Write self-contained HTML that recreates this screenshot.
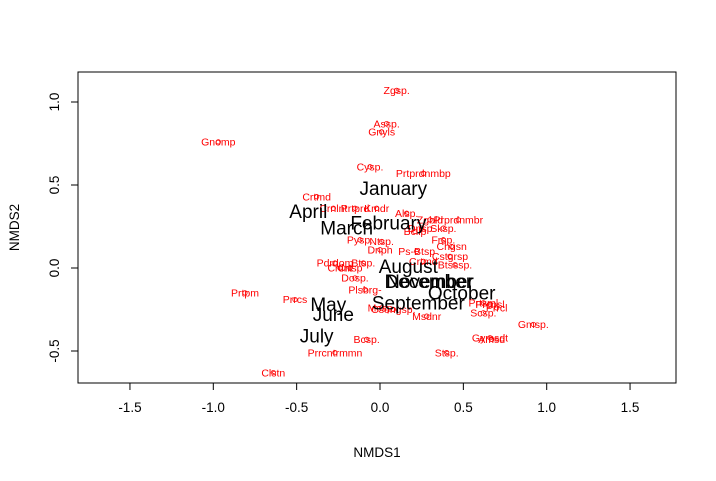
<!DOCTYPE html>
<html><head><meta charset="utf-8">
<style>
html,body{margin:0;padding:0;background:#fff;}
svg{display:block;font-family:"Liberation Sans",Arial,sans-serif;}
</style></head>
<body>
<svg id="chart" width="716" height="481" viewBox="0 0 716 481" xmlns="http://www.w3.org/2000/svg">
<rect x="0" y="0" width="716" height="481" fill="#fff"/>
<g id="plot"></g>
</svg>
<script>
// ---- data ----
const monthNames = ["January","April","February","March","August","December","November","October","September","May","June","July"];
const monthX = [0.08,-0.43,0.05,-0.20,0.17,0.29,0.30,0.49,0.23,-0.31,-0.28,-0.38];
const monthY = [0.48,0.34,0.27,0.24,0.01,-0.08,-0.08,-0.15,-0.21,-0.22,-0.28,-0.41];

const speciesNames = ["Zgsp.","Assp.","Gnyls","Gnomp","Cysp.","Prtprdnmbp","Crtmd","Crnlnt","Prtprd","Kmdr","Alsp.","Prprdnmbr","Zgbld","Dnsp.","Bcllp","Sksp.","Pysp.","Ntsp.","Frsp.","Chgsn","Dnph","Ps-Btsp","Cstgrsp","Crtmd","Btsssp.","Pdrdom","Btsp.","Crtlnt","Crtsp","Dosp.","Plsbrg-","Msdnr","Csongsp.","Prtpm","Prrcs","Bcsp.","Prrcntrmmn","Stsp.","Gymsdt","Amsd","Gmsp.","Clstn","Scsp.","Prrcl","Prcnsl","Prtsml","Mcsp."];
const speciesX = [0.10,0.04,0.01,-0.97,-0.06,0.26,-0.38,-0.28,-0.15,-0.02,0.16,0.47,0.30,0.25,0.21,0.38,-0.12,0.01,0.38,0.43,0.00,0.22,0.42,0.26,0.45,-0.27,-0.10,-0.24,-0.18,-0.15,-0.09,0.28,0.08,-0.81,-0.51,-0.08,-0.27,0.40,0.66,0.67,0.92,-0.64,0.62,0.70,0.66,0.62,0.01];
const speciesY = [1.07,0.87,0.82,0.76,0.61,0.57,0.43,0.36,0.36,0.36,0.33,0.29,0.29,0.24,0.22,0.24,0.17,0.16,0.17,0.13,0.11,0.10,0.07,0.04,0.02,0.03,0.03,0.00,0.00,-0.06,-0.13,-0.29,-0.25,-0.15,-0.19,-0.43,-0.51,-0.51,-0.42,-0.43,-0.34,-0.63,-0.27,-0.24,-0.22,-0.21,-0.24];

const xTicks = [-1.5,-1.0,-0.5,0.0,0.5,1.0,1.5];
const yTicks = [-0.5,0.0,0.5,1.0];

// ---- axes ----
const box = {l:78, r:676, t:72, b:383};
function sx(v){ return 380 + v*166.7; }
function sy(v){ return 268 - v*166; }

const NS = "http://www.w3.org/2000/svg";
const g = document.getElementById('plot');
function mk(tag, attrs, parent){
  const e = document.createElementNS(NS, tag);
  for (const k in attrs) e.setAttribute(k, attrs[k]);
  (parent||g).appendChild(e);
  return e;
}

const frame = mk('rect',{x:box.l,y:box.t,width:box.r-box.l,height:box.b-box.t,fill:'none',stroke:'#000','stroke-width':1});



// x axis
const xl = mk('line',{x1:sx(xTicks[0]),x2:sx(xTicks[xTicks.length-1]),y1:box.b,y2:box.b,stroke:'#000'});


xTicks.forEach(t=>{
  const tk = mk('line',{x1:sx(t),x2:sx(t),y1:box.b,y2:box.b+7,stroke:'#000'});
  
  
  const lb = mk('text',{x:sx(t),y:box.b+29,'text-anchor':'middle','font-size':13.5,fill:'#000'});
  lb.textContent = t.toFixed(1);
  
  
});
// y axis
const yl = mk('line',{x1:box.l,x2:box.l,y1:sy(yTicks[0]),y2:sy(yTicks[yTicks.length-1]),stroke:'#000'});


yTicks.forEach(t=>{
  const tk = mk('line',{x1:box.l-7,x2:box.l,y1:sy(t),y2:sy(t),stroke:'#000'});
  
  
  const lb = mk('text',{x:0,y:0,'text-anchor':'middle','font-size':13.5,fill:'#000',transform:`translate(${box.l-19},${sy(t)}) rotate(-90)`});
  lb.textContent = t.toFixed(1);
  
  
});
const xt = mk('text',{x:(box.l+box.r)/2,y:457,'text-anchor':'middle','font-size':13.5});
xt.textContent = 'NMDS1';


const yt = mk('text',{x:0,y:0,'text-anchor':'middle','font-size':13.5,transform:`translate(19,${(box.t+box.b)/2}) rotate(-90)`});
yt.textContent = 'NMDS2';



// species points + labels
speciesNames.forEach((n,i)=>{
  const c = mk('circle',{cx:sx(speciesX[i]),cy:sy(speciesY[i]),r:2.2,fill:'none',stroke:'#ff0000','stroke-width':0.8});
  
  
  const t = mk('text',{x:sx(speciesX[i]),y:sy(speciesY[i])+3.7,'text-anchor':'middle','font-size':10.5,fill:'#ff0000'});
  t.textContent = n;
  
  
});

// month labels
monthNames.forEach((n,i)=>{
  const t = mk('text',{x:sx(monthX[i]),y:sy(monthY[i])+6.5,'text-anchor':'middle','font-size':19,fill:'#000'});
  t.textContent = n;
  
  
});
</script>
</body></html>
